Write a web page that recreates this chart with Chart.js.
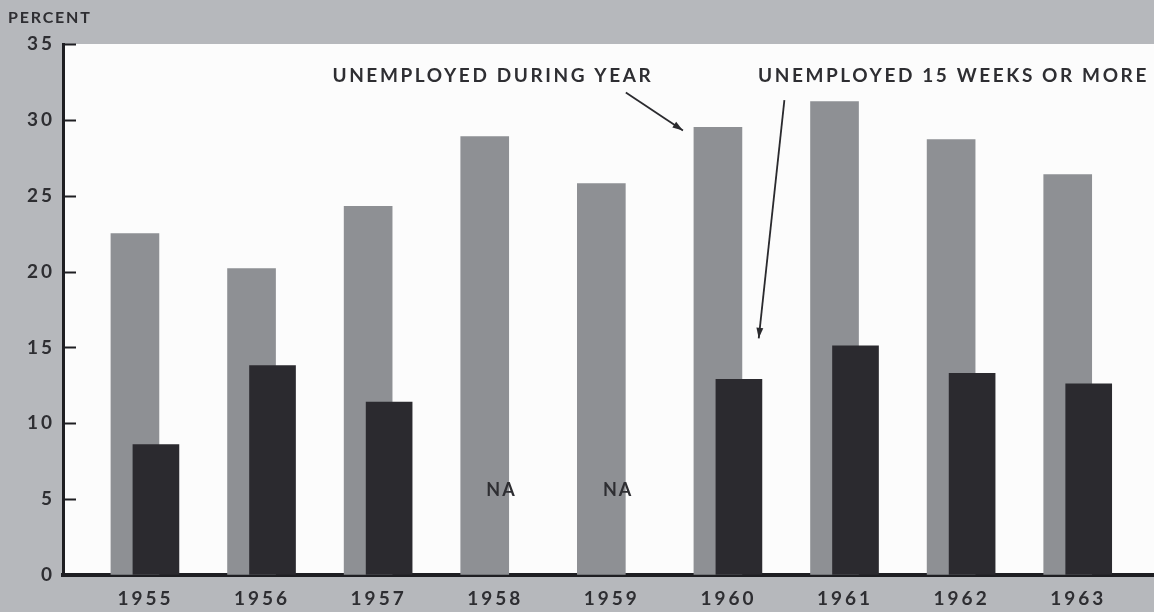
<!DOCTYPE html>
<html><head><meta charset="utf-8">
<script src="https://cdn.jsdelivr.net/npm/chart.js@4"></script>
<style>html,body{margin:0;padding:0;background:#b6b8bc;overflow:hidden}#wrap{width:1154px;height:612px;position:relative}</style>
</head><body><div id="wrap"><canvas id="c" width="1154" height="612"></canvas></div>
<script>
// ---- data ----
const years = ['1955','1956','1957','1958','1959','1960','1961','1962','1963'];
const unemployedDuringYear = [22.5, 20.2, 24.3, 28.9, 25.8, 29.5, 31.2, 28.7, 26.4];
const unemployed15WeeksOrMore = [8.6, 13.8, 11.4, null, null, 12.9, 15.1, 13.3, 12.6];
const yTicks = [0, 5, 10, 15, 20, 25, 30, 35];
const yAxisTitle = 'PERCENT';
const naLabel = 'NA';
const labelDuringYear = 'UNEMPLOYED DURING YEAR';
const label15Weeks = 'UNEMPLOYED 15 WEEKS OR MORE';

// ---- styles / layout ----
const FONT = 'Lato, "Open Sans", sans-serif';
const TEXT = '#2e2e32';
const X_MIN = -0.707, X_MAX = 8.65;   // category axis range
const PAIR_SHIFT = 0.09;               // horizontal shift of each bar from category centre
const annotations = [
  {text: labelDuringYear, x: 2.98, y: 32.9, from: [4.12, 31.8], to: [4.61, 29.3]},
  {text: label15Weeks, x: 6.93, y: 32.9, from: [5.48, 31.3], to: [5.26, 15.6]}
];

const decor = {
  id: 'decor',
  beforeDraw(chart) {
    const {ctx, chartArea: a} = chart;
    ctx.save();
    ctx.fillStyle = '#b6b8bc';
    ctx.fillRect(0, 0, chart.width, chart.height);
    ctx.fillStyle = '#fcfcfc';
    ctx.fillRect(a.left, a.top, a.right - a.left, a.bottom - a.top);
    ctx.restore();
    ctx.letterSpacing = '3px';
  },
  afterDatasetsDraw(chart) {
    const {ctx, chartArea: a, scales: {x, y}} = chart;
    ctx.save();
    ctx.strokeStyle = '#1e1e22';
    ctx.lineWidth = 2;
    yTicks.forEach(v => {
      const py = Math.round(y.getPixelForValue(v)) + 0.5;
      ctx.beginPath(); ctx.moveTo(a.left, py); ctx.lineTo(a.left + 13, py); ctx.stroke();
    });
    ctx.fillStyle = TEXT;
    ctx.font = 'bold 18px ' + FONT;
    ctx.letterSpacing = '2px';
    ctx.textAlign = 'center'; ctx.textBaseline = 'middle';
    unemployed15WeeksOrMore.forEach((v, i) => {
      if (v === null) ctx.fillText(naLabel, x.getPixelForValue(i + PAIR_SHIFT * 0.6), y.getPixelForValue(5.6));
    });
    ctx.font = 'bold 19px ' + FONT;
    ctx.letterSpacing = '2.6px';
    annotations.forEach(an => {
      ctx.fillText(an.text, x.getPixelForValue(an.x), y.getPixelForValue(an.y));
      const x1 = x.getPixelForValue(an.from[0]), y1 = y.getPixelForValue(an.from[1]);
      const x2 = x.getPixelForValue(an.to[0]), y2 = y.getPixelForValue(an.to[1]);
      ctx.strokeStyle = '#2a2a2e'; ctx.lineWidth = 1.8;
      ctx.beginPath(); ctx.moveTo(x1, y1); ctx.lineTo(x2, y2); ctx.stroke();
      const ang = Math.atan2(y2 - y1, x2 - x1), L = 11, W = 0.32;
      ctx.fillStyle = '#2a2a2e';
      ctx.beginPath(); ctx.moveTo(x2, y2);
      ctx.lineTo(x2 - L * Math.cos(ang - W), y2 - L * Math.sin(ang - W));
      ctx.lineTo(x2 - L * Math.cos(ang + W), y2 - L * Math.sin(ang + W));
      ctx.closePath(); ctx.fill();
      ctx.fillStyle = TEXT;
    });
    ctx.textAlign = 'left';
    ctx.font = 'bold 16px ' + FONT;
    ctx.letterSpacing = '1.8px';
    ctx.fillText(yAxisTitle, 8, 18);
    ctx.restore();
  }
};

const hiddenX = shift => ({
  type: 'linear', display: false, offset: false,
  min: X_MIN - shift, max: X_MAX - shift
});

new Chart(document.getElementById('c'), {
  type: 'bar',
  data: {
    datasets: [
      {label: labelDuringYear, data: unemployedDuringYear.map((v, i) => ({x: i, y: v})),
       backgroundColor: '#8e9094', barThickness: 48, grouped: false, xAxisID: 'xg', order: 2},
      {label: label15Weeks, data: unemployed15WeeksOrMore.map((v, i) => ({x: i, y: v})),
       backgroundColor: '#2b2a2f', barThickness: 46, grouped: false, xAxisID: 'xd', order: 1}
    ]
  },
  options: {
    responsive: false,
    animation: false,
    layout: {padding: {top: 44, left: 0, right: 0, bottom: 0}},
    plugins: {legend: {display: false}, tooltip: {enabled: false}},
    scales: {
      xg: hiddenX(-PAIR_SHIFT),
      xd: hiddenX(PAIR_SHIFT),
      x: {
        type: 'linear', position: 'bottom', offset: false, min: X_MIN, max: X_MAX, z: 1,
        afterBuildTicks: s => { s.ticks = years.map((_, i) => ({value: i})); },
        afterFit: s => { s.height = 37; },
        grid: {display: true, drawOnChartArea: false, drawTicks: false},
        border: {display: true, color: '#1e1e22', width: 4},
        ticks: {callback: v => years[v] ?? '', color: TEXT, padding: 12, maxRotation: 0,
                font: {family: FONT, size: 19, weight: 'bold'}}
      },
      y: {
        min: 0, max: 35, z: 1,
        afterBuildTicks: s => { s.ticks = yTicks.map(v => ({value: v})); },
        afterFit: s => { s.width = 63; },
        grid: {display: true, drawOnChartArea: false, drawTicks: false},
        border: {display: true, color: '#1e1e22', width: 3},
        ticks: {color: TEXT, padding: 8, font: {family: FONT, size: 19, weight: 'bold'}}
      }
    }
  },
  plugins: [decor]
});
</script>
</body></html>
